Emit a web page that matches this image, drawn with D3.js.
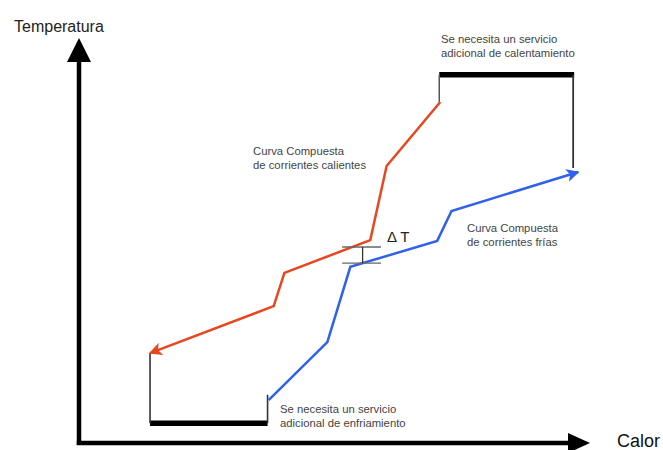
<!DOCTYPE html>
<html>
<head>
<meta charset="utf-8">
<script src="https://cdn.jsdelivr.net/npm/d3@7"></script>
<style>
  body { margin: 0; background: #fff; }
  text { font-family: "Liberation Sans", Arial, sans-serif; }
</style>
</head>
<body>
<div id="chart"></div>
<script>
// data (heat 0-100, temperature 0-100)
var hotHeat = [70.7, 60.2, 57.0, 40.2, 38.1, 13.9];
var hotTemp = [84.2, 68.4, 50.1, 42.0, 33.8, 22.2];
var coldHeat = [37.1, 48.6, 53.1, 70.1, 72.9, 97.7];
var coldTemp = [10.6, 24.9, 43.5, 49.9, 57.3, 66.9];
var hotUtilityHeat = [70.5, 96.9];
var hotUtilityTemp = 90.9;
var coldUtilityHeat = [13.9, 36.9];
var coldUtilityTemp = 4.9;
var hotUtilityRightBottom = 67.9;
var coldUtilityRightTop = 11.9;
var deltaTHeat = 55.5;
var deltaTTemps = [48.4, 44.4];

var width = 663, height = 450;

var x = d3.scaleLinear().domain([0, 100]).range([79, 590]);
var y = d3.scaleLinear().domain([0, 100]).range([443, 38]);

var svg = d3.select('#chart').append('svg')
  .attr('width', width)
  .attr('height', height);

var defs = svg.append('defs');
function addMarker(id, color, w, h) {
  defs.append('marker')
    .attr('id', id)
    .attr('viewBox', '0 0 10 10')
    .attr('refX', 9).attr('refY', 5)
    .attr('markerUnits', 'userSpaceOnUse')
    .attr('markerWidth', w).attr('markerHeight', h)
    .attr('orient', 'auto')
    .append('path')
    .attr('d', 'M0,0 L10,5 L0,10 L2.5,5 Z')
    .attr('fill', color);
}
addMarker('arrRed', '#e8461f', 16, 13);
addMarker('arrBlue', '#2f62ea', 16, 13);

// axes
var ax = svg.append('g');
ax.append('line')
  .attr('x1', x(0)).attr('y1', y(0) + 2)
  .attr('x2', x(0)).attr('y2', y(100) + 22)
  .attr('stroke', '#000').attr('stroke-width', 4.5);
ax.append('path')
  .attr('d', 'M' + x(0) + ',' + y(100) + ' L' + (x(0) - 12) + ',' + (y(100) + 24) +
        ' L' + (x(0) + 12) + ',' + (y(100) + 24) + ' Z')
  .attr('fill', '#000');
ax.append('line')
  .attr('x1', x(0) - 2.2).attr('y1', y(0))
  .attr('x2', x(100) - 20).attr('y2', y(0))
  .attr('stroke', '#000').attr('stroke-width', 4.5);
ax.append('path')
  .attr('d', 'M' + x(100) + ',' + y(0) + ' L' + (x(100) - 22) + ',' + (y(0) - 10) +
        ' L' + (x(100) - 22) + ',' + (y(0) + 10) + ' Z')
  .attr('fill', '#000');

svg.append('text')
  .attr('x', 14).attr('y', 32)
  .attr('font-size', 16).attr('fill', '#222')
  .text('Temperatura');
svg.append('text')
  .attr('x', 617).attr('y', 447)
  .attr('font-family', 'Lato, "Open Sans", sans-serif')
  .attr('font-size', 18).attr('fill', '#111')
  .text('Calor');

// utility boxes
var util = svg.append('g');
util.append('line')
  .attr('x1', x(hotUtilityHeat[0])).attr('x2', x(hotUtilityHeat[1]))
  .attr('y1', y(hotUtilityTemp)).attr('y2', y(hotUtilityTemp))
  .attr('stroke', '#000').attr('stroke-width', 5.5);
util.append('line')
  .attr('x1', x(hotUtilityHeat[0])).attr('x2', x(hotUtilityHeat[0]))
  .attr('y1', y(hotUtilityTemp)).attr('y2', y(hotTemp[0]))
  .attr('stroke', '#555').attr('stroke-width', 1.5);
util.append('line')
  .attr('x1', x(hotUtilityHeat[1]) - 1).attr('x2', x(hotUtilityHeat[1]) - 1)
  .attr('y1', y(hotUtilityTemp)).attr('y2', y(hotUtilityRightBottom))
  .attr('stroke', '#333').attr('stroke-width', 1.8);

util.append('line')
  .attr('x1', x(coldUtilityHeat[0])).attr('x2', x(coldUtilityHeat[1]))
  .attr('y1', y(coldUtilityTemp)).attr('y2', y(coldUtilityTemp))
  .attr('stroke', '#000').attr('stroke-width', 5.5);
util.append('line')
  .attr('x1', x(coldUtilityHeat[0])).attr('x2', x(coldUtilityHeat[0]))
  .attr('y1', y(coldUtilityTemp)).attr('y2', y(hotTemp[5]))
  .attr('stroke', '#333').attr('stroke-width', 1.6);
util.append('line')
  .attr('x1', x(coldUtilityHeat[1])).attr('x2', x(coldUtilityHeat[1]))
  .attr('y1', y(coldUtilityTemp)).attr('y2', y(coldUtilityRightTop))
  .attr('stroke', '#333').attr('stroke-width', 1.6);

// composite curves
var line = d3.line()
  .x(function(d) { return x(d[0]); })
  .y(function(d) { return y(d[1]); });

svg.append('path')
  .datum(d3.zip(hotHeat, hotTemp))
  .attr('d', line)
  .attr('fill', 'none')
  .attr('stroke', '#e8461f')
  .attr('stroke-width', 2.5)
  .attr('marker-end', 'url(#arrRed)');

svg.append('path')
  .datum(d3.zip(coldHeat, coldTemp))
  .attr('d', line)
  .attr('fill', 'none')
  .attr('stroke', '#2f62ea')
  .attr('stroke-width', 2.5)
  .attr('marker-end', 'url(#arrBlue)');

// delta T marker
var dt = svg.append('g').attr('stroke', '#666').attr('stroke-width', 1.3);
deltaTTemps.forEach(function(t) {
  dt.append('line')
    .attr('x1', x(deltaTHeat - 4)).attr('x2', x(deltaTHeat + 3.6))
    .attr('y1', y(t)).attr('y2', y(t));
});
dt.append('line')
  .attr('x1', x(deltaTHeat)).attr('x2', x(deltaTHeat))
  .attr('y1', y(deltaTTemps[0])).attr('y2', y(deltaTTemps[1]))
  .attr('stroke', '#333');
svg.append('text')
  .attr('x', 387).attr('y', 242)
  .attr('font-size', 15).attr('fill', '#222')
  .text('\u0394 T');

// annotations
function note(x0, y0, lines) {
  var t = svg.append('text')
    .attr('x', x0).attr('y', y0)
    .attr('font-size', 11.3).attr('fill', '#444');
  lines.forEach(function(s, i) {
    t.append('tspan').attr('x', x0).attr('dy', i ? 14 : 0).text(s);
  });
}
note(441, 43, ['Se necesita un servicio', 'adicional de calentamiento']);
note(253, 155, ['Curva Compuesta', 'de corrientes calientes']);
note(467, 232, ['Curva Compuesta', 'de corrientes frías']);
note(280, 413, ['Se necesita un servicio', 'adicional de enfriamiento']);
</script>
</body>
</html>
